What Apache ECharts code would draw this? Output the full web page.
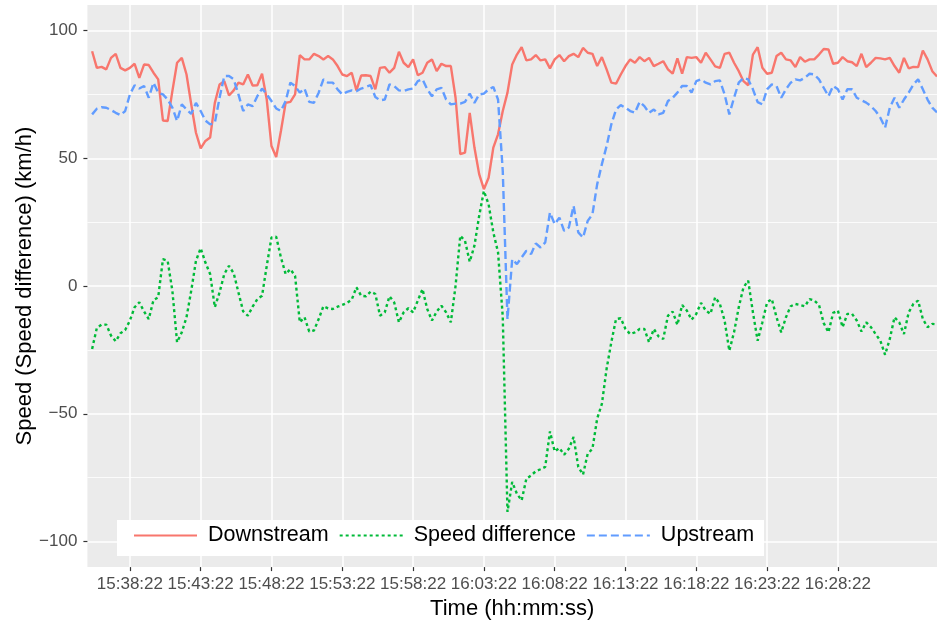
<!DOCTYPE html>
<html>
<head>
<meta charset="utf-8">
<script src="https://cdn.jsdelivr.net/npm/echarts@6/dist/echarts.min.js"></script>
<style>
    html, body { margin: 0; padding: 0; background: #fff; }
    #chart { width: 937px; height: 625px; }
</style>
</head>
<body>
<div id="chart"></div>
<script>
// one sample every 20 s, first slot (15:35:22) is empty
const downstream = [
    null, 91.9, 85.4, 85.8, 84.8, 89.3, 90.9, 85.4, 84.4, 85.4,
    87, 81.5, 86.7, 86.5, 83.5, 80.9, 64.8, 64.6, 76.3, 87.4,
    89.3, 82.8, 71.1, 60, 53.9, 56.8, 58.1, 71.7, 78.9, 80.2,
    74.6, 76.6, 79.6, 78.9, 82.8, 78.5, 78.6, 83.1, 73, 54.8,
    50.5, 60.7, 71.7, 72.1, 75, 90.4, 88.7, 88.7, 90.9, 90,
    88.7, 90, 88.7, 86.1, 82.8, 82.2, 83.5, 76.6, 82.4, 82.5,
    82.2, 77, 85.4, 85.7, 83.5, 85.4, 91.7, 87.4, 85.7, 88.7,
    82.5, 83.5, 87.4, 88.7, 84.1, 87, 86.1, 86.1, 73.7, 51.6,
    52.2, 67.8, 54.2, 43.8, 37.9, 42.4, 54.2, 59.4, 68.5, 75.7,
    86.7, 90.6, 93.5, 88.3, 88.7, 90.4, 88.3, 88.7, 85.2, 88.7,
    90.4, 88, 90, 90.9, 89.6, 93.2, 91.3, 90.9, 86.1, 89.6,
    84.8, 79.6, 79.2, 82.8, 86.1, 88.7, 87.4, 89.6, 88, 89.3,
    86.1, 87, 88, 84.8, 83.1, 89.1, 83.1, 89.6, 89.3, 89.6,
    87.4, 91.3, 88.7, 86, 85.4, 90.9, 91.3, 87.4, 84.1, 80.2,
    78.6, 90.6, 93.5, 85.4, 83.1, 83.5, 90, 91.3, 88.7, 88.3,
    85.7, 89.6, 87.8, 88.7, 88.7, 90.6, 92.8, 92.6, 87, 87.4,
    89.6, 88, 87.6, 86.1, 90.9, 85.7, 87.4, 89.3, 89.1, 88.7,
    89.3, 86.1, 83.5, 89.3, 85.2, 85.8, 85.7, 92.2, 88.7, 84.1,
    82
];

const speedDifference = [
    null, -24.6, -16.4, -15.1, -15.1, -19.4, -21.6, -18.5, -17.2, -13.5,
    -8.3, -6.4, -9.9, -12.9, -5.5, -4.4, 10.5, 9.9, -1.8, -22,
    -18.1, -12.2, -1.8, 9.9, 14.8, 9.2, 4.7, -8.3, -2.5, 4.7,
    7.9, 5, -2.5, -9.9, -11.6, -8.1, -5.1, -3.8, 7.9, 19,
    19.3, 11.2, 4.7, 6.6, 4, -14.2, -12.2, -17.8, -17.4, -12.9,
    -7.9, -8.7, -9, -8.1, -7.4, -6.6, -5.3, -0.5, -3.8, -4,
    -2.2, -3.1, -11.6, -10.3, -4, -6.4, -14.2, -10.3, -8.7, -10.3,
    -5.7, -1.2, -9, -13.5, -10, -7.7, -10.3, -14.2, 0.1, 19.7,
    17.7, 9.5, 15.8, 27.5, 37.2, 32, 21, 13.2, -12, -88.4,
    -76.7, -81.3, -83.9, -75.4, -74.1, -72.5, -71.7, -70.8, -56.9, -64.7,
    -63.4, -66, -63.7, -59.1, -70.8, -73.8, -65.6, -63.7, -51.9, -46.1,
    -32.4, -22, -12.9, -12.6, -16.8, -18.8, -18.1, -16.8, -16.8, -22,
    -16.8, -19.7, -20.7, -11.6, -10, -15.2, -7.4, -9.6, -13.2, -10.9,
    -6.6, -9.6, -10.9, -4.4, -7, -13.5, -25.3, -18.1, -8.3, -0.5,
    2.1, -10.3, -21.4, -14.2, -6.4, -5.1, -12.2, -18.1, -12.2, -7.9,
    -7, -7.4, -7.9, -5.1, -5.7, -7.4, -14.5, -18.1, -10.5, -9.6,
    -16.1, -10.9, -10.9, -13.5, -17.8, -14.2, -16.1, -18.8, -21.4, -26.9,
    -20.7, -12.2, -14.2, -18.8, -10.3, -7, -5.7, -12.9, -16.1, -14.8,
    -15
];

const upstream = [
    null, 67.2, 69.4, 70, 69.8, 68.9, 67.8, 66.9, 68.5, 75,
    78.6, 77.3, 78.3, 73.7, 79.6, 75.7, 75, 73, 69.8, 64.6,
    71.1, 69.1, 67.4, 71.7, 68.5, 64.8, 63.3, 63.9, 73.7, 82.2,
    82.2, 80.9, 75, 68.5, 71.1, 70.4, 74.3, 77.3, 75, 72.4,
    69.5, 68.5, 72.4, 79.6, 78.3, 75.7, 77.3, 72.1, 71.7, 75.7,
    80.9, 79.6, 79.6, 77, 75, 76, 76.6, 76.3, 77.3, 77.9,
    78.6, 74, 72.7, 73, 78.9, 78.3, 76.6, 76.3, 77, 77.3,
    80.2, 80.9, 77, 74.3, 77, 77.6, 73, 71.1, 71.4, 71.4,
    72.1, 75.3, 71.7, 75, 75.3, 77, 77.9, 73, 45, -13,
    10.5, 8.6, 11.2, 13.8, 12.5, 16.7, 15.1, 17.1, 28.8, 24.2,
    26.8, 21.6, 22.9, 31.4, 21, 19, 25.5, 28.1, 39.8, 47.7,
    54.8, 63.3, 69.1, 70.8, 69.8, 68.5, 67.8, 72.1, 70.4, 67.8,
    69.1, 67.2, 67.8, 72.4, 73.7, 75.7, 78.3, 78.3, 75.7, 80.2,
    80.9, 79.6, 78.9, 80.2, 80.5, 75, 67.2, 73.7, 79.6, 81.5,
    80.9, 77, 72, 71.1, 77, 78.9, 78.3, 73.7, 77, 79.6,
    80.9, 80.5, 81.5, 83.1, 82.8, 80.9, 77.6, 74.3, 78.3, 77,
    73, 77, 77, 73.7, 72.7, 71.8, 70.4, 68.5, 65.9, 62,
    69.8, 73.7, 69.8, 73, 75.7, 78.9, 80.9, 77, 73, 69.8,
    68
];

const tickLabels = [
    "15:38:22", "15:43:22", "15:48:22", "15:53:22", "15:58:22", "16:03:22",
    "16:08:22", "16:13:22", "16:18:22", "16:23:22", "16:28:22"
];
const yMajor = [-100, -50, 0, 50, 100];
const yMinor = [-75, -25, 25, 75];

const startSeconds = 15 * 3600 + 35 * 60 + 22;
const pad = n => String(n).padStart(2, "0");
const times = downstream.map((_, i) => {
    const s = startSeconds + i * 20;
    return `${pad(Math.floor(s / 3600))}:${pad(Math.floor(s / 60) % 60)}:${pad(s % 60)}`;
});

const isTick = (index, value) => tickLabels.includes(value);

const font = "'Liberation Sans', Arial, sans-serif";
const tickLine = { color: "#333333", width: 1.2 };

const chart = echarts.init(document.getElementById("chart"));

chart.setOption({
    animation: false,
    textStyle: { fontFamily: font },
    grid: {
        left: 87.4,
        right: -3,
        top: 5,
        bottom: 57,
        show: true,
        backgroundColor: "#EBEBEB",
        borderWidth: 0
    },
    legend: {
        left: 117,
        top: 520,
        backgroundColor: "#ffffff",
        padding: [4.5, 10, 9.5, 16],
        itemWidth: 63,
        itemHeight: 23,
        itemGap: 10,
        itemStyle: { opacity: 0 },
        textStyle: {
            fontFamily: font,
            fontSize: 21.5,
            color: "#000",
            padding: [0, 0, 0, 6]
        },
        data: ["Downstream", "Speed difference", "Upstream"]
    },
    xAxis: {
        type: "category",
        data: times,
        boundaryGap: false,
        name: "Time (hh:mm:ss)",
        nameLocation: "middle",
        nameGap: 30,
        nameTextStyle: { fontSize: 22, color: "#000" },
        axisLine: { show: false, onZero: false },
        axisTick: { show: true, length: 4, interval: isTick, lineStyle: tickLine },
        axisLabel: { interval: isTick, fontSize: 17, color: "#4D4D4D", margin: 9 },
        splitLine: { show: true, interval: isTick, lineStyle: { color: "#ffffff", width: 1.5 } }
    },
    yAxis: [
        {
            type: "value",
            min: -110,
            max: 110,
            name: "Speed (Speed difference) (km/h)",
            nameLocation: "middle",
            nameGap: 51,
            nameMoveOverlap: false,
            nameTextStyle: { fontSize: 22, color: "#000" },
            axisLine: { show: false, onZero: false },
            axisTick: { show: true, length: 4, customValues: yMajor, lineStyle: tickLine },
            axisLabel: {
                customValues: yMajor,
                fontSize: 17,
                color: "#4D4D4D",
                margin: 10,
                formatter: value => String(value).replace("-", "\u2212")
            },
            splitLine: { show: true, lineStyle: { color: "#ffffff", width: 1.5 } }
        },
        {
            type: "value",
            min: -110,
            max: 110,
            position: "left",
            axisLine: { show: false, onZero: false },
            axisTick: { show: false, customValues: yMinor },
            axisLabel: { show: false, customValues: yMinor },
            splitLine: { show: true, lineStyle: { color: "#ffffff", width: 0.8 } }
        }
    ],
    series: [
        {
            name: "Downstream",
            type: "line",
            data: downstream,
            showSymbol: false,
            symbol: "none",
            color: "#F8766D",
            lineStyle: { color: "#F8766D", width: 2.4 }
        },
        {
            name: "Speed difference",
            type: "line",
            data: speedDifference,
            showSymbol: false,
            symbol: "none",
            color: "#00BA38",
            lineStyle: { color: "#00BA38", width: 2.4, type: [3, 3] }
        },
        {
            name: "Upstream",
            type: "line",
            data: upstream,
            showSymbol: false,
            symbol: "none",
            color: "#619CFF",
            lineStyle: { color: "#619CFF", width: 2.4, type: [8, 4] }
        }
    ]
});
</script>
</body>
</html>
